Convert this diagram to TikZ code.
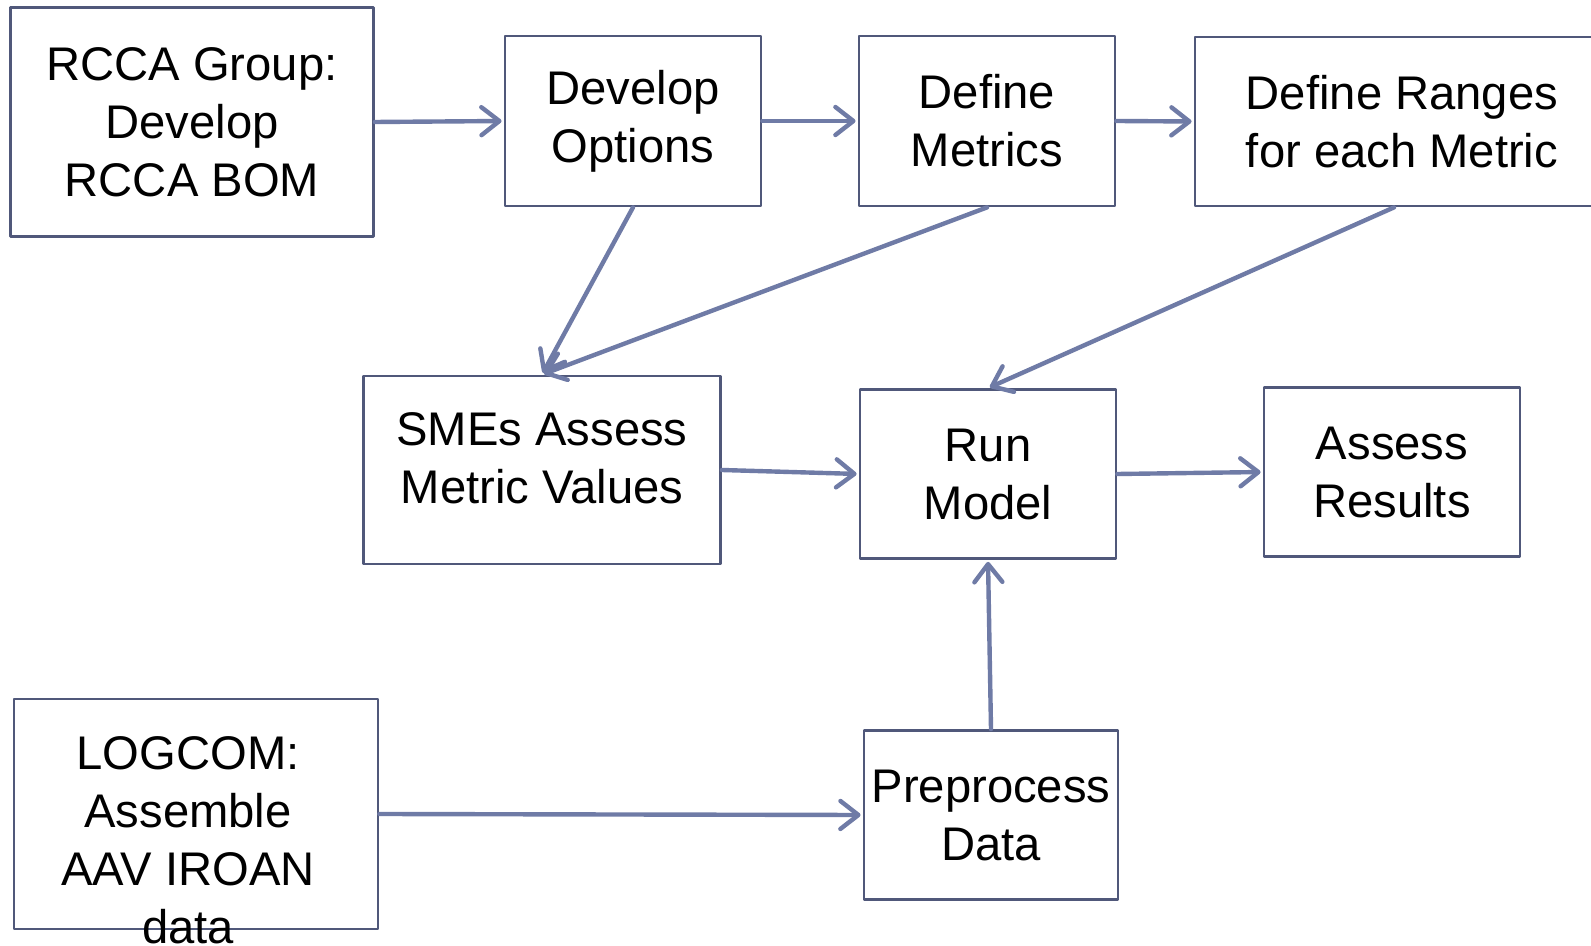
\documentclass[tikz,border=0pt]{standalone}
\usepackage{fontspec}
\setmainfont{Liberation Sans}
\usetikzlibrary{arrows.meta}
\definecolor{boxcol}{RGB}{80,88,122}
\definecolor{arrcol}{RGB}{111,123,166}
\begin{document}
\begin{tikzpicture}[x=0.5pt,y=-0.5pt,line join=round,line cap=round,
    >={Straight Barb[length=9pt,width=14pt,round]}]
  \tikzset{txt/.style={inner sep=0pt,align=center,font=\fontsize{23.6}{29}\selectfont},
    box/.style={txt,draw=boxcol,line width=1.4pt,rectangle},
    flow/.style={->,draw=arrcol,line width=2.2pt,shorten >=1pt}}
  \useasboundingbox (0,0) rectangle (1591,946);
  \clip (0,0) rectangle (1591,946);
  % top row
  \node[box,minimum width=181.5pt,minimum height=114.5pt] (rcca) at (192,122) {RCCA Group:\\Develop\\RCCA BOM};
  \node[box,minimum width=128pt,minimum height=85pt] (devopt) at (633,121) {Develop\\Options};
  \node[box,minimum width=128pt,minimum height=85pt] (defmet) at (987,121) {Define\\Metrics};
  \node[box,minimum width=207pt,minimum height=84.5pt] (ranges) at (1402,121.5) {Define Ranges\\for each Metric};
  % middle row
  \node[box,minimum width=178.5pt,minimum height=94pt] (smes) at (542,470) {};
  \node[txt] (smestxt) at (542,458) {SMEs Assess\\Metric Values};
  \node[box,minimum width=128pt,minimum height=84.5pt] (run) at (988,474) {Run\\Model};
  \node[box,minimum width=128pt,minimum height=84.5pt] (assess) at (1392,472) {Assess\\Results};
  % bottom row
  \node[box,minimum width=182pt,minimum height=115pt] (logcom) at (196,814) {};
  \node[txt] (logcomtxt) at (188,840) {LOGCOM:\\Assemble\\AAV IROAN\\data};
  \node[box,minimum width=127pt,minimum height=84.5pt] (pre) at (991,815) {Preprocess\\Data};
  % connectors
  \draw[flow] (rcca.east) -- (devopt.west);
  \draw[flow] (devopt.east) -- (defmet.west);
  \draw[flow] (defmet.east) -- (ranges.west);
  \draw[flow] (devopt.south) -- (smes.north);
  \draw[flow] (defmet.south) -- (smes.north);
  \draw[flow] ([xshift=-4pt]ranges.south) -- (run.north);
  \draw[flow] (smes.east) -- (run.west);
  \draw[flow] (run.east) -- (assess.west);
  \draw[flow] (pre.north) -- (run.south);
  \draw[flow] (logcom.east) -- (pre.west);
\end{tikzpicture}
\end{document}
